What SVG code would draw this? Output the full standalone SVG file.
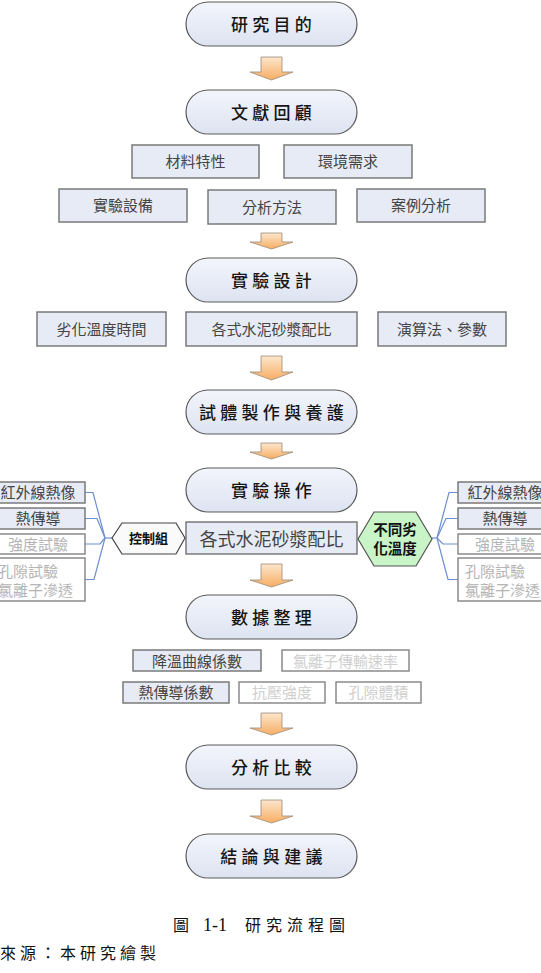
<svg xmlns="http://www.w3.org/2000/svg" width="541" height="973" viewBox="0 0 541 973">
<defs>
<linearGradient id="pillG" x1="0" y1="0" x2="0" y2="1">
<stop offset="0" stop-color="#f3f5fc"/>
<stop offset="1" stop-color="#dde3f1"/>
</linearGradient>
<linearGradient id="arrG" x1="0" y1="0" x2="0" y2="1">
<stop offset="0" stop-color="#fde6cc"/>
<stop offset="1" stop-color="#f7ad62"/>
</linearGradient>
<style>
text{font-family:"Noto Sans CJK TC","Noto Sans CJK SC",sans-serif;}
.pill{fill:url(#pillG);stroke:#5a5a5a;stroke-width:1.2;}
.pt{font-size:17px;font-weight:500;fill:#151515;text-anchor:middle;letter-spacing:4.3px;}
.box{fill:#e7ebf6;stroke:#7a7a7a;stroke-width:1.5;}
.wbox{fill:#ffffff;stroke:#8a8a8a;stroke-width:1.5;}
.bt{font-size:15px;fill:#444;text-anchor:middle;}
.gt{font-size:15px;fill:#b4b4b4;text-anchor:middle;}
.lgt{font-size:15px;fill:#cfcfcf;text-anchor:middle;}
.arr{fill:url(#arrG);stroke:#9a8a7a;stroke-width:0.8;}
.con{fill:none;stroke:#6d8fcf;stroke-width:1.2;}
.hx{font-weight:bold;fill:#111;text-anchor:middle;}
</style>
</defs>

<g id="arrows">
<path class="arr" d="M261,57 H282 V72 H293 L271.5,80 L250,72 H261 Z"/>
<path class="arr" d="M261,233 H282 V242 H293 L271.5,249 L250,242 H261 Z"/>
<path class="arr" d="M261,356 H282 V372 H293 L271.5,380 L250,372 H261 Z"/>
<path class="arr" d="M261,443 H282 V452 H293 L271.5,459 L250,452 H261 Z"/>
<path class="arr" d="M261,564 H282 V580 H293 L271.5,587 L250,580 H261 Z"/>
<path class="arr" d="M261,713 H282 V728 H293 L271.5,735 L250,728 H261 Z"/>
<path class="arr" d="M261,800 H282 V816 H293 L271.5,823 L250,816 H261 Z"/>
</g>

<g id="connectors">
<path class="con" d="M85,492.5 H93 L105,538"/>
<path class="con" d="M85,518.5 H97 L105,538"/>
<path class="con" d="M85,544 H100 L105,538"/>
<path class="con" d="M85,579.5 H94 L105,538"/>
<path class="con" d="M105,538 H112"/>
<path class="con" d="M458,492.5 H449 L437,538"/>
<path class="con" d="M458,518.5 H446 L437,538"/>
<path class="con" d="M458,544 H443 L437,538"/>
<path class="con" d="M458,579.5 H448 L437,538"/>
<path class="con" d="M437,538 H432"/>
</g>

<g id="n-goal"><rect class="pill" x="186" y="2" width="171" height="44" rx="22"/><text class="pt" x="273.5" y="30.5">研究目的</text></g>
<g id="n-review"><rect class="pill" x="186" y="90" width="171" height="44" rx="22"/><text class="pt" x="273.5" y="118.5">文獻回顧</text></g>
<g id="n-mat"><rect class="box" x="132" y="145" width="127" height="33"/><text class="bt" x="195.5" y="167">材料特性</text></g>
<g id="n-env"><rect class="box" x="284" y="145" width="128" height="33"/><text class="bt" x="348" y="167">環境需求</text></g>
<g id="n-equip"><rect class="box" x="59" y="189" width="128" height="33"/><text class="bt" x="123" y="211">實驗設備</text></g>
<g id="n-method"><rect class="box" x="208" y="190" width="128" height="34"/><text class="bt" x="272" y="212.5">分析方法</text></g>
<g id="n-case"><rect class="box" x="357" y="189" width="128" height="33"/><text class="bt" x="421" y="211">案例分析</text></g>

<g id="n-design"><rect class="pill" x="186" y="258" width="171" height="44" rx="22"/><text class="pt" x="273.5" y="286.5">實驗設計</text></g>
<g id="n-temp"><rect class="box" x="37" y="312" width="129" height="34"/><text class="bt" x="101.5" y="334.5">劣化溫度時間</text></g>
<g id="n-mix"><rect class="box" x="186" y="312" width="171" height="34"/><text class="bt" x="271.5" y="334.5">各式水泥砂漿配比</text></g>
<g id="n-algo"><rect class="box" x="378" y="312" width="128" height="34"/><text class="bt" x="442" y="334.5">演算法、參數</text></g>

<g id="n-spec"><rect class="pill" x="186" y="390" width="171" height="44" rx="22"/><text class="pt" x="273.5" y="418.5">試體製作與養護</text></g>

<g id="n-op"><rect class="pill" x="186" y="468" width="171" height="44" rx="22"/><text class="pt" x="273.5" y="497">實驗操作</text></g>
<g id="n-mix2"><rect class="box" x="186" y="522" width="171" height="32"/><text class="bt" x="271.5" y="545.5" style="font-size:18px">各式水泥砂漿配比</text></g>

<g id="n-ctrl"><polygon points="112,538 122,523 176,523 185,538 176,554 122,554" fill="#fafafa" stroke="#444" stroke-width="1.2"/><text class="hx" x="148.5" y="543" style="font-size:13px">控制組</text></g>
<g id="n-diff"><polygon points="358,539 374,512 416,512 432,539 416,566 374,566" fill="#c8f4c8" stroke="#555" stroke-width="1.2"/><text class="hx" x="395" y="535" style="font-size:14.5px">不同劣</text><text class="hx" x="395" y="554" style="font-size:14.5px">化溫度</text></g>

<g id="n-l-ir"><rect class="box" x="-9" y="482" width="94" height="21"/><text class="bt" x="38" y="498">紅外線熱像</text></g>
<g id="n-l-heat"><rect class="box" x="-9" y="508" width="94" height="21"/><text class="bt" x="38" y="524">熱傳導</text></g>
<g id="n-l-str"><rect class="wbox" x="-9" y="534" width="94" height="20"/><text class="gt" x="38" y="549.5">強度試驗</text></g>
<g id="n-l-pore"><rect class="wbox" x="-9" y="558" width="94" height="43"/><text class="gt" x="-2" y="577" style="text-anchor:start">孔隙試驗</text><text class="gt" x="-2" y="596" style="text-anchor:start">氯離子滲透</text></g>

<g id="n-r-ir"><rect class="box" x="458" y="482" width="94" height="21"/><text class="bt" x="505" y="498">紅外線熱像</text></g>
<g id="n-r-heat"><rect class="box" x="458" y="508" width="94" height="21"/><text class="bt" x="505" y="524">熱傳導</text></g>
<g id="n-r-str"><rect class="wbox" x="458" y="534" width="94" height="20"/><text class="gt" x="505" y="549.5">強度試驗</text></g>
<g id="n-r-pore"><rect class="wbox" x="458" y="558" width="94" height="43"/><text class="gt" x="465" y="577" style="text-anchor:start">孔隙試驗</text><text class="gt" x="465" y="596" style="text-anchor:start">氯離子滲透</text></g>

<g id="n-data"><rect class="pill" x="186" y="595" width="171" height="44" rx="22"/><text class="pt" x="273.5" y="623.5">數據整理</text></g>
<g id="n-cool"><rect class="box" x="133" y="650" width="128" height="21"/><text class="bt" x="197" y="666.5">降溫曲線係數</text></g>
<g id="n-chl"><rect class="wbox" x="282" y="650" width="127" height="21"/><text class="lgt" x="345.5" y="666.5">氯離子傳輸速率</text></g>
<g id="n-cond"><rect class="box" x="123" y="682" width="106" height="21"/><text class="bt" x="176" y="698">熱傳導係數</text></g>
<g id="n-comp"><rect class="wbox" x="239" y="682" width="86" height="21"/><text class="lgt" x="282" y="698">抗壓強度</text></g>
<g id="n-vol"><rect class="wbox" x="336" y="682" width="85" height="21"/><text class="lgt" x="378.5" y="698">孔隙體積</text></g>

<g id="n-compare"><rect class="pill" x="186" y="745" width="171" height="44" rx="22"/><text class="pt" x="273.5" y="773.5">分析比較</text></g>
<g id="n-concl"><rect class="pill" x="186" y="834" width="171" height="44" rx="22"/><text class="pt" x="273.5" y="862.5">結論與建議</text></g>

<g id="caption">
<text x="173" y="931" style="font-size:16px;fill:#111">圖</text>
<text x="203" y="931" style="font-family:'Liberation Serif',serif;font-size:18px;fill:#111">1-1</text>
<text x="245" y="931" style="font-size:16px;fill:#111;letter-spacing:5px">研究流程圖</text>
<text x="0" y="959" style="font-size:16px;fill:#111;letter-spacing:4px">來源：本研究繪製</text>
</g>
</svg>
